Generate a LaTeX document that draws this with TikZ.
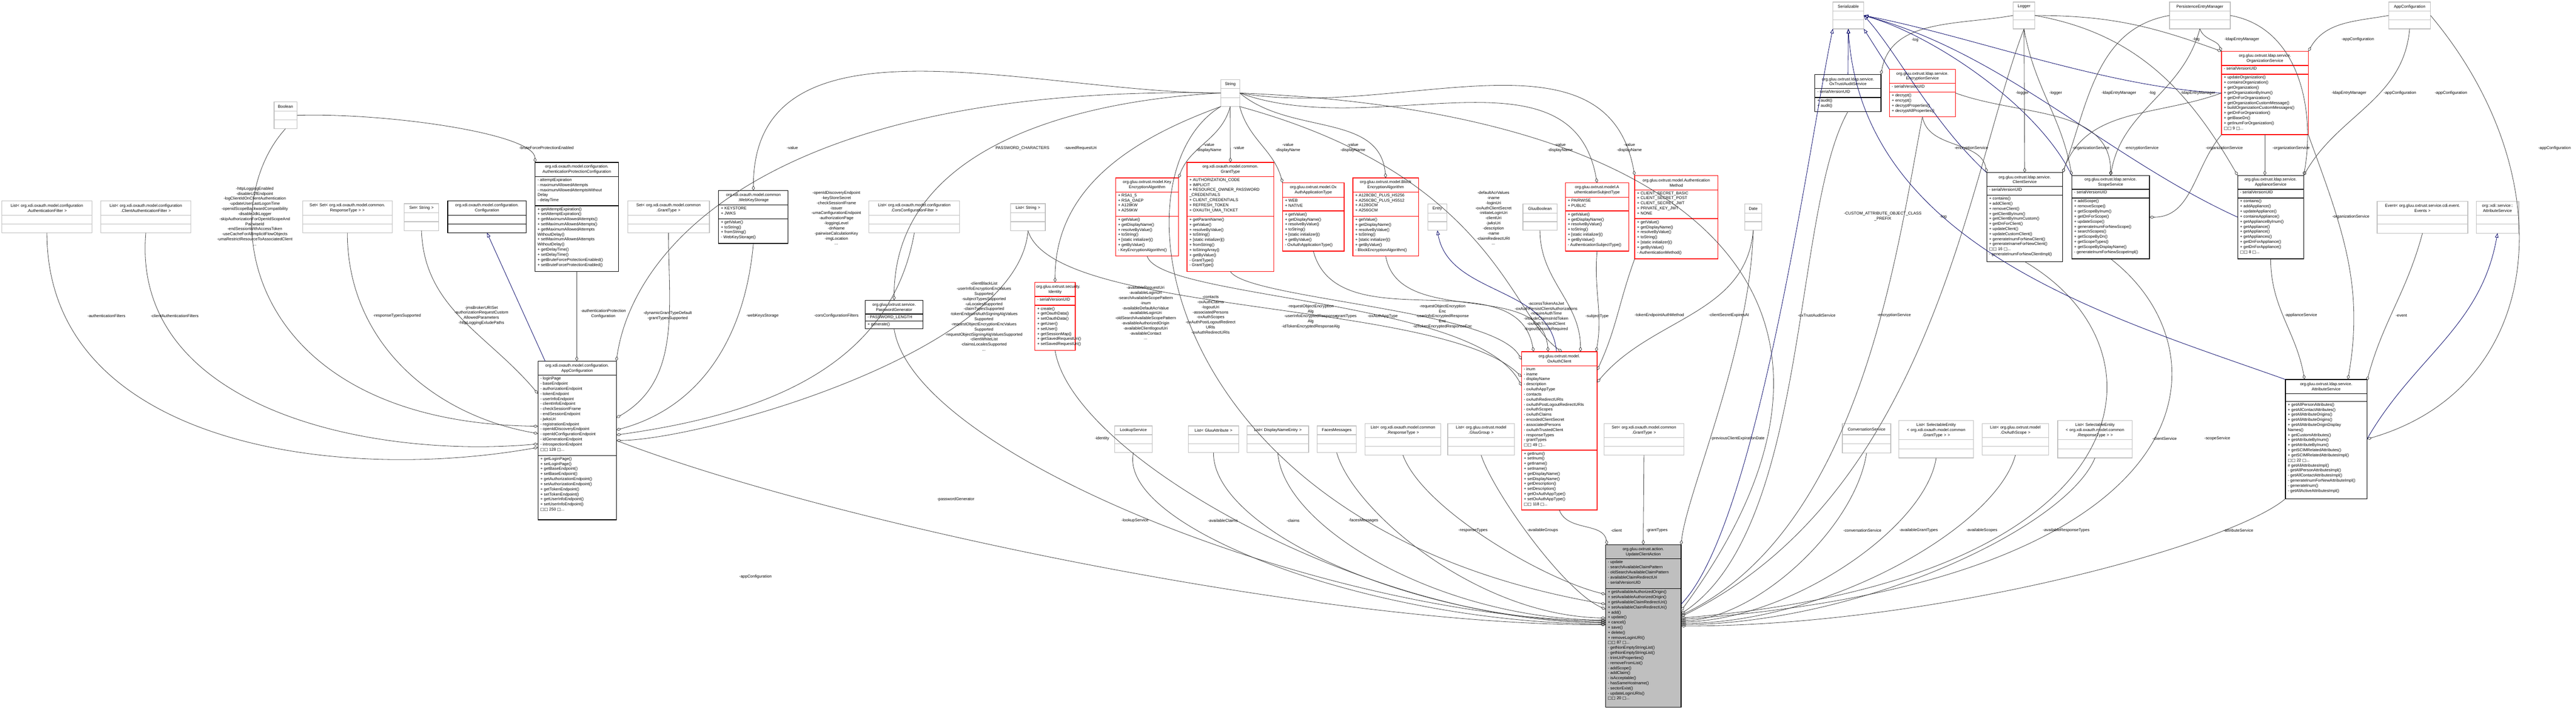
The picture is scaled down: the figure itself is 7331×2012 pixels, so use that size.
\documentclass[tikz,border=0pt]{standalone}
\usepackage{fontspec}
\setmainfont{Liberation Sans}
\newfontfamily\djf{DejaVu Sans}
\usetikzlibrary{arrows.meta}
\newcommand\sqb{{\djf □}}
\newcommand\more[1]{\sqb\sqb\ #1 \sqb...}
\tikzset{
 fnt/.style={font=\fontsize{2.9}{3.6}\selectfont},
 ttl/.style={fnt,align=center,inner sep=0},
 mem/.style={fnt,align=left,inner sep=0,anchor=north west},
 lbl/.style={fnt,align=center,inner sep=0},
 redb/.style={draw=red,line width=0.55pt},
 blackb/.style={draw=black,line width=0.45pt},
 grayb/.style={draw=black!25,line width=0.45pt},
 mainb/.style={draw=black,line width=0.45pt,fill=black!25},
 conn/.style={draw=black!75,line width=0.3pt,-{Diamond[open,length=3.6pt,width=2.1pt]}},
 inh/.style={draw=blue!40!black,line width=0.3pt,-{Triangle[open,length=3.2pt,width=2.4pt]}}
}
% name x1 y1 x2 y2 s1 s2 style title
\newcommand\cbox[9]{%
 \node[#8,inner sep=0,outer sep=0,minimum width={(#4-#2)*0.25pt},minimum height={(#5-#3)*0.25pt},anchor=north west] (#1) at (#2,-#3) {};
 \draw[#8,fill=none] (#2,-#6) -- (#4,-#6) (#2,-#7) -- (#4,-#7);
 \node[ttl,text width={(#4-#2)*0.25pt-2pt}] (#1-t) at ({(#2+#4)/2},{-(#3+#6)/2}) {#9};
 \coordinate (#1-a) at ({#2+6},{-#6-4});
 \coordinate (#1-m) at ({#2+6},{-#7-4});
}
% name x1 y1 x2 y2 s1 title
\newcommand\ebox[7]{%
 \node[grayb,inner sep=0,outer sep=0,minimum width={(#4-#2)*0.25pt},minimum height={(#5-#3)*0.25pt},anchor=north west] (#1) at (#2,-#3) {};
 \draw[grayb] (#2,-#6) -- (#4,-#6) (#2,{-(#6+#5)/2}) -- (#4,{-(#6+#5)/2});
 \node[ttl,text width={(#4-#2)*0.25pt-2pt}] (#1-t) at ({(#2+#4)/2},{-(#3+#6)/2}) {#7};
}
\newcommand\lb[4]{\node[lbl] (#1) at (#2,-#3) {#4};}
\begin{document}
\begin{tikzpicture}[x=0.25pt,y=0.25pt]
\useasboundingbox[fill=white] (0,0) rectangle (7331,-2012);
% ---------- plain boxes
\ebox{ser}{5216}{6}{5304}{82}{32}{Serializable}
\ebox{logger}{5729}{6}{5791}{82}{32}{Logger}
\ebox{pem}{6174}{6}{6347}{82}{32}{PersistenceEntryManager}
\ebox{appc}{6798}{6}{6917}{82}{32}{AppConfiguration}
\ebox{str}{3474}{226}{3528}{303}{252}{String}
\ebox{bool}{780}{290}{845}{366}{316}{Boolean}
\ebox{laf}{5}{571}{262}{662}{612}{List< org.xdi.oxauth.model.configuration\\.AuthenticationFilter >}
\ebox{lcaf}{287}{571}{543}{662}{612}{List< org.xdi.oxauth.model.configuration\\.ClientAuthenticationFilter >}
\ebox{ssr}{861}{571}{1116}{662}{612}{Set< Set< org.xdi.oxauth.model.common.\\ResponseType > >}
\ebox{sstr}{1150}{579}{1249}{656}{605}{Set< String >}
\ebox{sgl}{1786}{571}{2019}{662}{612}{Set< org.xdi.oxauth.model.common\\.GrantType >}
\ebox{lcors}{2473}{571}{2731}{662}{612}{List< org.xdi.oxauth.model.configuration\\.CorsConfigurationFilter >}
\ebox{lstr}{2876}{579}{2975}{656}{605}{List< String >}
\ebox{entry}{4063}{580}{4118}{655}{606}{Entry}
\ebox{gb}{4334}{580}{4431}{655}{606}{GluuBoolean}
\ebox{date}{4965}{580}{5014}{655}{606}{Date}
\ebox{event}{6765}{572}{7023}{663}{612}{Event< org.gluu.oxtrust.service.cdi.event.\\Events >}
\ebox{xas}{7047}{572}{7168}{663}{612}{org::xdi::service::\\AttributeService}
\ebox{lookup}{3172}{1211}{3279}{1287}{1236}{LookupService}
\ebox{lga}{3382}{1211}{3525}{1287}{1236}{List< GluuAttribute >}
\ebox{ldn}{3549}{1211}{3724}{1287}{1236}{List< DisplayNameEntry >}
\ebox{fm}{3748}{1211}{3860}{1287}{1236}{FacesMessages}
\ebox{lrt}{3885}{1204}{4100}{1294}{1244}{List< org.xdi.oxauth.model.common\\.ResponseType >}
\ebox{lgg}{4120}{1204}{4310}{1294}{1244}{List< org.gluu.oxtrust.model\\.GluuGroup >}
\ebox{sgb}{4565}{1204}{4792}{1294}{1244}{Set< org.xdi.oxauth.model.common\\.GrantType >}
\ebox{conv}{5243}{1205}{5381}{1288}{1236}{ConversationService}
\ebox{lsg}{5404}{1196}{5616}{1302}{1250}{List< SelectableEntity\\< org.xdi.oxauth.model.common\\.GrantType > >}
\ebox{los}{5641}{1204}{5830}{1294}{1244}{List< org.gluu.oxtrust.model\\.OxAuthScope >}
\ebox{lsr}{5856}{1196}{6068}{1302}{1250}{List< SelectableEntity\\< org.xdi.oxauth.model.common\\.ResponseType > >}
% ---------- class boxes
\cbox{conf}{1274}{571}{1498}{662}{612}{637}{blackb}{org.xdi.oxauth.model.configuration.\\Configuration}
\cbox{apc}{1523}{462}{1760}{772}{502}{585}{blackb}{org.xdi.oxauth.model.configuration.\\AuthenticationProtectionConfiguration}
\node[mem] (apc-am) at (apc-a) {- attemptExpiration\\- maximumAllowedAttempts\\- maximumAllowedAttemptsWithout\\Delay\\- delayTime};
\node[mem] (apc-mm) at (apc-m) {+ getAttemptExpiration()\\+ setAttemptExpiration()\\+ getMaximumAllowedAttempts()\\+ setMaximumAllowedAttempts()\\+ getMaximumAllowedAttempts\\WithoutDelay()\\+ setMaximumAllowedAttempts\\WithoutDelay()\\+ getDelayTime()\\+ setDelayTime()\\+ getBruteForceProtectionEnabled()\\+ setBruteForceProtectionEnabled()};
\cbox{wks}{2045}{542}{2243}{692}{583}{622}{blackb}{org.xdi.oxauth.model.common\\.WebKeyStorage}
\node[mem] (wks-am) at (wks-a) {+ KEYSTORE\\+ JWKS};
\node[mem] (wks-mm) at (wks-m) {+ getValue()\\+ toString()\\+ fromString()\\- WebKeyStorage()};
\cbox{kea}{3175}{506}{3354}{728}{546}{615}{redb}{org.gluu.oxtrust.model.Key\\EncryptionAlgorithm}
\node[mem] (kea-am) at (kea-a) {+ RSA1\_5\\+ RSA\_OAEP\\+ A128KW\\+ A256KW};
\node[mem] (kea-mm) at (kea-m) {+ getValue()\\+ getDisplayName()\\+ resolveByValue()\\+ toString()\\+ [static initializer]()\\+ getByValue()\\- KeyEncryptionAlgorithm()};
\cbox{gt}{3378}{462}{3625}{772}{502}{615}{redb}{org.xdi.oxauth.model.common.\\GrantType}
\node[mem] (gt-am) at (gt-a) {+ AUTHORIZATION\_CODE\\+ IMPLICIT\\+ RESOURCE\_OWNER\_PASSWORD\\\_CREDENTIALS\\+ CLIENT\_CREDENTIALS\\+ REFRESH\_TOKEN\\+ OXAUTH\_UMA\_TICKET};
\node[mem] (gt-mm) at (gt-m) {+ getParamName()\\+ getValue()\\+ resolveByValue()\\+ toString()\\+ [static initializer]()\\+ fromString()\\+ toStringArray()\\+ getByValue()\\- GrantType()\\- GrantType()};
\cbox{oat}{3650}{520}{3825}{714}{561}{600}{redb}{org.gluu.oxtrust.model.Ox\\AuthApplicationType}
\node[mem] (oat-am) at (oat-a) {+ WEB\\+ NATIVE};
\node[mem] (oat-mm) at (oat-m) {+ getValue()\\+ getDisplayName()\\+ resolveByValue()\\+ toString()\\+ [static initializer]()\\+ getByValue()\\- OxAuthApplicationType()};
\cbox{bea}{3850}{506}{4037}{728}{546}{615}{redb}{org.gluu.oxtrust.model.Block\\EncryptionAlgorithm}
\node[mem] (bea-am) at (bea-a) {+ A128CBC\_PLUS\_HS256\\+ A256CBC\_PLUS\_HS512\\+ A128GCM\\+ A256GCM};
\node[mem] (bea-mm) at (bea-m) {+ getValue()\\+ getDisplayName()\\+ resolveByValue()\\+ toString()\\+ [static initializer]()\\+ getByValue()\\- BlockEncryptionAlgorithm()};
\cbox{ast}{4455}{520}{4635}{714}{561}{600}{redb}{org.gluu.oxtrust.model.A\\uthenticationSubjectType}
\node[mem] (ast-am) at (ast-a) {+ PAIRWISE\\+ PUBLIC};
\node[mem] (ast-mm) at (ast-m) {+ getValue()\\+ getDisplayName()\\+ resolveByValue()\\+ toString()\\+ [static initializer]()\\+ getByValue()\\- AuthenticationSubjectType()};
\cbox{am}{4652}{499}{4889}{736}{540}{622}{redb}{org.gluu.oxtrust.model.Authentication\\Method}
\node[mem] (am-am) at (am-a) {+ CLIENT\_SECRET\_BASIC\\+ CLIENT\_SECRET\_POST\\+ CLIENT\_SECRET\_JWT\\+ PRIVATE\_KEY\_JWT\\+ NONE};
\node[mem] (am-mm) at (am-m) {+ getValue()\\+ getDisplayName()\\+ resolveByValue()\\+ toString()\\+ [static initializer]()\\+ getByValue()\\- AuthenticationMethod()};
\cbox{ota}{5165}{212}{5353}{317}{252}{277}{blackb}{org.gluu.oxtrust.ldap.service.\\OxTrustAuditService}
\node[mem] (ota-am) at (ota-a) {- serialVersionUID};
\node[mem] (ota-mm) at (ota-m) {+ audit()\\+ audit()};
\cbox{enc}{5377}{197}{5565}{332}{237}{262}{redb}{org.gluu.oxtrust.ldap.service.\\EncryptionService}
\node[mem] (enc-am) at (enc-a) {- serialVersionUID};
\node[mem] (enc-mm) at (enc-m) {+ decrypt()\\+ encrypt()\\+ decryptProperties()\\+ decryptAllProperties()};
\cbox{cs}{5654}{491}{5870}{744}{530}{555}{blackb}{org.gluu.oxtrust.ldap.service.\\ClientService}
\node[mem] (cs-am) at (cs-a) {- serialVersionUID};
\node[mem] (cs-mm) at (cs-m) {+ contains()\\+ addClient()\\+ removeClient()\\+ getClientByInum()\\+ getClientByInumCustom()\\+ getDnForClient()\\+ updateClient()\\+ updateCustomClient()\\+ generateInumForNewClient()\\+ generateInameForNewClient()\\\more{16}\\- generateInumForNewClientImpl()};
\cbox{ss}{5896}{499}{6117}{736}{538}{563}{blackb}{org.gluu.oxtrust.ldap.service.\\ScopeService}
\node[mem] (ss-am) at (ss-a) {- serialVersionUID};
\node[mem] (ss-mm) at (ss-m) {+ addScope()\\+ removeScope()\\+ getScopeByInum()\\+ getDnForScope()\\+ updateScope()\\+ generateInumForNewScope()\\+ searchScopes()\\+ getScopeByDn()\\+ getScopeTypes()\\+ getScopeByDisplayName()\\- generateInumForNewScopeImpl()};
\cbox{org}{6322}{146}{6569}{383}{186}{211}{redb}{org.gluu.oxtrust.ldap.service.\\OrganizationService}
\node[mem] (org-am) at (org-a) {- serialVersionUID};
\node[mem] (org-mm) at (org-m) {+ updateOrganization()\\+ containsOrganization()\\+ getOrganization()\\+ getOrganizationByInum()\\+ getDnForOrganization()\\+ getOrganizationCustomMessage()\\+ buildOrganizationCustomMessages()\\+ getDnForOrganization()\\+ getBaseDn()\\+ getInumForOrganization()\\\more{9}};
\cbox{app}{6368}{499}{6556}{736}{538}{563}{blackb}{org.gluu.oxtrust.ldap.service.\\ApplianceService}
\node[mem] (app-am) at (app-a) {- serialVersionUID};
\node[mem] (app-mm) at (app-m) {+ contains()\\+ addAppliance()\\+ updateAppliance()\\+ containsAppliance()\\+ getApplianceByInum()\\+ getAppliance()\\+ getAppliance()\\+ getAppliances()\\+ getDnForAppliance()\\+ getDnForAppliance()\\\more{8}};
\cbox{atts}{6504}{1079}{6736}{1418}{1119}{1141}{blackb}{org.gluu.oxtrust.ldap.service.\\AttributeService}
\node[mem] (atts-mm) at (atts-m) {+ getAllPersonAttributes()\\+ getAllContactAttributes()\\+ getAllAttributeOrigins()\\+ getAllAttributeOrigins()\\+ getAllAttributeOriginDisplay\\Names()\\+ getCustomAttributes()\\+ getAttributeByInum()\\+ getAttributeByInum()\\+ getSCIMRelatedAttributes()\\+ getSCIMRelatedAttributesImpl()\\\more{22}\\\# getAllAttributesImpl()\\- getAllPersonAttributesImpl()\\- getAllContactAttributesImpl()\\- generateInumForNewAttributeImpl()\\- generateInum()\\- getAllActiveAttributesImpl()};
\cbox{ident}{2945}{803}{3060}{996}{843}{868}{redb}{org.gluu.oxtrust.security.\\Identity}
\node[mem] (ident-am) at (ident-a) {- serialVersionUID};
\node[mem] (ident-mm) at (ident-m) {+ create()\\+ getOauthData()\\+ setOauthData()\\+ getUser()\\+ setUser()\\+ getSessionMap()\\+ getSavedRequestUri()\\+ setSavedRequestUri()};
\cbox{pg}{2462}{854}{2627}{935}{893}{913}{blackb}{org.gluu.oxtrust.service.\\PasswordGenerator}
\node[mem] (pg-am) at (pg-a) {- PASSWORD\_LENGTH};
\node[mem] (pg-mm) at (pg-m) {+ generate()};
\cbox{oac}{1531}{1027}{1754}{1478}{1067}{1295}{blackb}{org.xdi.oxauth.model.configuration.\\AppConfiguration}
\node[mem] (oac-am) at (oac-a) {- loginPage\\- baseEndpoint\\- authorizationEndpoint\\- tokenEndpoint\\- userInfoEndpoint\\- clientInfoEndpoint\\- checkSessionIFrame\\- endSessionEndpoint\\- jwksUri\\- registrationEndpoint\\- openIdDiscoveryEndpoint\\- openIdConfigurationEndpoint\\- idGenerationEndpoint\\- introspectionEndpoint\\\more{128}};
\node[mem] (oac-mm) at (oac-m) {+ getLoginPage()\\+ setLoginPage()\\+ getBaseEndpoint()\\+ setBaseEndpoint()\\+ getAuthorizationEndpoint()\\+ setAuthorizationEndpoint()\\+ getTokenEndpoint()\\+ setTokenEndpoint()\\+ getUserInfoEndpoint()\\+ setUserInfoEndpoint()\\\more{250}};
\cbox{oxc}{4330}{1000}{4545}{1450}{1040}{1280}{redb}{org.gluu.oxtrust.model.\\OxAuthClient}
\node[mem] (oxc-am) at (oxc-a) {- inum\\- iname\\- displayName\\- description\\- oxAuthAppType\\- contacts\\- oxAuthRedirectURIs\\- oxAuthPostLogoutRedirectURIs\\- oxAuthScopes\\- oxAuthClaims\\- encodedClientSecret\\- associatedPersons\\- oxAuthTrustedClient\\- responseTypes\\- grantTypes\\\more{49}};
\node[mem] (oxc-mm) at (oxc-m) {+ getInum()\\+ setInum()\\+ getIname()\\+ setIname()\\+ getDisplayName()\\+ setDisplayName()\\+ getDescription()\\+ setDescription()\\+ getOxAuthAppType()\\+ setOxAuthAppType()\\\more{118}};
\cbox{main}{4569}{1549}{4784}{2011}{1589}{1674}{mainb}{org.gluu.oxtrust.action.\\UpdateClientAction}
\node[mem] (main-am) at (main-a) {- update\\- searchAvailableClaimPattern\\- oldSearchAvailableClaimPattern\\- availableClaimRedirectUri\\- serialVersionUID};
\node[mem] (main-mm) at (main-m) {+ getAvailableAuthorizedOrigin()\\+ setAvailableAuthorizedOrigin()\\+ getAvailableClaimRedirectUri()\\+ setAvailableClaimRedirectUri()\\+ add()\\+ update()\\+ cancel()\\+ save()\\+ delete()\\+ removeLoginURI()\\\more{87}\\- getNonEmptyStringList()\\- getNonEmptyStringList()\\- trimUriProperties()\\- removeFromList()\\- addScope()\\- addClaim()\\- isAcceptable()\\- hasSameHostname()\\- sectorExist()\\- updateLoginURIs()\\\more{20}};
% ---------- String edges
\draw[conn] (str.west) to[out=180,in=90] (wks.north);
\draw[conn] (str.west) to[out=183,in=90] (pg.north);
\draw[conn] (str.south west) to[out=200,in=90] (ident.north);
\draw[conn] (str.south) to[out=-105,in=70] (kea.north east);
\draw[conn] (str.south) -- (gt.north);
\draw[conn] (str.south east) to[out=-75,in=105] (oat.north west);
\draw[conn] (str.east) to[out=-40,in=95] (bea.north);
\draw[conn] (str.east) to[out=-20,in=100] (ast.north);
\draw[conn] (str.east) to[out=-10,in=100] (am.north west);
\draw[conn] (str.west) .. controls (2200,-240) and (1800,-700) .. (oac.north east);
\draw[conn] (str.south west) .. controls (3150,-500) and (3300,-1500) .. (main.150);
\draw[conn] (str.east) .. controls (4900,-320) and (5400,-900) .. (main.22);
\draw[conn] (str.south east) .. controls (4250,-500) and (4300,-900) .. (oxc.88);
\draw[conn] (lstr.south) .. controls (3000,-900) and (4100,-850) .. (oxc.125);
\draw[conn] (lstr.south) .. controls (2900,-1000) and (2000,-1250) .. (oac.east);
\lb{l1}{2255}{421}{-value}
\lb{l2}{2910}{421}{PASSWORD\_CHARACTERS}
\lb{l3}{3075}{421}{-savedRequestUri}
\lb{l4}{3440}{420}{-value\\-displayName}
\lb{l5}{3525}{421}{-value}
\lb{l6}{3665}{420}{-value\\-displayName}
\lb{l7}{3850}{420}{-value\\-displayName}
\lb{l8}{4440}{420}{-value\\-displayName}
\lb{l9}{4637}{420}{-value\\-displayName}
\lb{l10}{2380}{620}{-openIdDiscoveryEndpoint\\-keyStoreSecret\\-checkSessionIFrame\\-issuer\\-umaConfigurationEndpoint\\-authorizationPage\\-loggingLevel\\-dnName\\-pairwiseCalculationKey\\-imgLocation\\...}
\lb{l11}{2800}{900}{-clientBlackList\\-userInfoEncryptionEncValues\\Supported\\-subjectTypesSupported\\-uiLocalesSupported\\-claimTypesSupported\\-tokenEndpointAuthSigningAlgValues\\Supported\\-requestObjectEncryptionEncValues\\Supported\\-requestObjectSigningAlgValuesSupported\\-clientWhiteList\\-claimsLocalesSupported\\...}
\lb{l12}{3260}{890}{-availableRequestUri\\-availableLoginUri\\-searchAvailableScopePattern\\-inum\\-availableDefaultAcrValue\\-availableLoginUri\\-oldSearchAvailableScopePattern\\-availableAuthorizedOrigin\\-availableClientlogoutUri\\-availableContact\\...}
\lb{l13}{3445}{895}{-contacts\\-oxAuthClaims\\-logoutUri\\-associatedPersons\\-oxAuthScopes\\-oxAuthPostLogoutRedirect\\URIs\\-oxAuthRedirectURIs}
\lb{l14}{4250}{620}{-defaultAcrValues\\-iname\\-loginUri\\-oxAuthClientSecret\\-initiateLoginUri\\-clientUri\\-jwksUri\\-description\\-name\\-claimRedirectURI\\...}
\lb{l15}{5358}{615}{-CUSTOM\_ATTRIBUTE\_OBJECT\_CLASS\\\_PREFIX}
% ---------- oxauth AppConfiguration
\draw[conn] (bool.east) .. controls (1100,-320) and (1520,-380) .. (apc.north west);
\draw[conn] (bool.south) .. controls (600,-600) and (700,-1200) .. (oac.160);
\draw[conn] (laf.south) to[out=-90,in=190] (oac.190);
\draw[conn] (lcaf.south) to[out=-95,in=185] (oac.185);
\draw[conn] (ssr.south) to[out=-90,in=170] (oac.170);
\draw[conn] (sstr.south) to[out=-88,in=130] (oac.130);
\draw[inh] (oac.112) -- (conf.south);
\draw[conn] (apc.south) -- (apc.south |- oac.north);
\draw[conn] (sgl.south) to[out=-90,in=30] (oac.30);
\draw[conn] (wks.south) to[out=-95,in=15] (oac.15);
\draw[conn] (lcors.south) to[out=-100,in=8] (oac.8);
\lb{l16}{1555}{421}{-bruteForceProtectionEnabled}
\lb{l17}{725}{615}{-httpLoggingEnabled\\-disableU2fEndpoint\\-logClientIdOnClientAuthentication\\-updateUserLastLogonTime\\-openidScopeBackwardCompatibility\\-disableJdkLogger\\-skipAuthorizationForOpenIdScopeAnd\\PairwiseId\\-endSessionWithAccessToken\\-useCacheForAllImplicitFlowObjects\\-umaRestrictResourceToAssociatedClient\\...}
\lb{l18}{303}{898}{-authenticationFilters}
\lb{l19}{497}{898}{-clientAuthenticationFilters}
\lb{l20}{1130}{898}{-responseTypesSupported}
\lb{l21}{1370}{897}{-jmsBrokerURISet\\-authorizationRequestCustom\\AllowedParameters\\-httpLoggingExludePaths}
\lb{l22}{1717}{892}{-authenticationProtection\\Configuration}
\lb{l23}{1900}{898}{-dynamicGrantTypeDefault\\-grantTypesSupported}
\lb{l24}{2170}{898}{-webKeysStorage}
\lb{l25}{2380}{898}{-corsConfigurationFilters}
% ---------- edges into main, left
\draw[conn] (oac.east) .. controls (2400,-1500) and (3800,-1780) .. (main.178);
\draw[conn] (pg.south) .. controls (2600,-1300) and (3800,-1760) .. (main.172);
\draw[conn] (ident.south) .. controls (3050,-1300) and (3900,-1770) .. (main.175);
\draw[conn] (lookup.south) .. controls (3180,-1500) and (3900,-1770) .. (main.177);
\draw[conn] (lga.south) .. controls (3450,-1500) and (4000,-1760) .. (main.174);
\draw[conn] (ldn.south) .. controls (3650,-1500) and (4100,-1760) .. (main.171);
\draw[conn] (fm.south) .. controls (3850,-1450) and (4200,-1750) .. (main.168);
\draw[conn] (lrt.south) .. controls (4050,-1450) and (4400,-1650) .. (main.140);
\draw[conn] (lgg.south) .. controls (4250,-1400) and (4450,-1680) .. (main.156);
\draw[conn] (oxc.south) to[out=-70,in=100] (main.114);
\draw[conn] (sgb.south) -- (main.north);
\draw[conn] (date.south) .. controls (4980,-1000) and (4800,-1400) .. (main.65);
\lb{l26}{2150}{1640}{-appConfiguration}
\lb{l27}{2720}{1420}{-passwordGenerator}
\lb{l28}{3136}{1247}{-identity}
\lb{l29}{3230}{1480}{-lookupService}
\lb{l30}{3480}{1480}{-availableClaims}
\lb{l31}{3680}{1480}{-claims}
\lb{l32}{3880}{1480}{-facesMessages}
\lb{l33}{4192}{1508}{-responseTypes}
\lb{l34}{4390}{1508}{-availableGroups}
\lb{l35}{4600}{1508}{-client}
\lb{l36}{4715}{1508}{-grantTypes}
\lb{l37}{4945}{1247}{-previousClientExpirationDate}
% ---------- edges into main, right
\draw[conn] (conv.south) .. controls (5280,-1500) and (5000,-1760) .. (main.8);
\draw[conn] (lsg.south) .. controls (5480,-1500) and (5100,-1760) .. (main.6);
\draw[conn] (los.south) .. controls (5680,-1500) and (5200,-1770) .. (main.4);
\draw[conn] (lsr.south) .. controls (5880,-1500) and (5300,-1770) .. (main.2);
\draw[conn] (atts.south west) .. controls (6350,-1550) and (5500,-1780) .. (main.0);
\draw[conn] (cs.south) .. controls (6200,-1000) and (6100,-1650) .. (main.12);
\draw[conn] (ss.south) .. controls (6350,-1000) and (6300,-1650) .. (main.10);
\draw[conn] (ota.south) .. controls (5100,-600) and (5150,-1500) .. (main.18);
\draw[conn] (enc.south) .. controls (5400,-700) and (5300,-1500) .. (main.16);
\draw[conn] (logger.south) .. controls (5600,-500) and (5500,-1400) .. (main.14);
\draw[inh] (main.30) .. controls (5000,-1500) and (5150,-400) .. (ser.south west);
\lb{l38}{5300}{1508}{-conversationService}
\lb{l39}{5460}{1508}{-availableGrantTypes}
\lb{l40}{5640}{1508}{-availableScopes}
\lb{l41}{5880}{1508}{-availableResponseTypes}
\lb{l42}{6370}{1508}{-attributeService}
\lb{l43}{6160}{1247}{-clientService}
\lb{l44}{6310}{1247}{-scopeService}
\lb{l45}{5170}{897}{-oxTrustAuditService}
\lb{l46}{5390}{897}{-encryptionService}
\lb{l47}{5530}{616}{-log}
% ---------- OxAuthClient
\draw[conn] (kea.south) .. controls (3300,-850) and (4200,-850) .. (oxc.130);
\draw[conn] (gt.south) .. controls (3550,-850) and (4250,-880) .. (oxc.118);
\draw[conn] (oat.south) to[out=-75,in=100] (oxc.108);
\draw[conn] (bea.south) to[out=-80,in=95] (oxc.98);
\draw[conn] (gb.south) to[out=-90,in=90] (oxc.75);
\draw[conn] (ast.south) to[out=-95,in=80] (oxc.65);
\draw[conn] (am.south west) to[out=-110,in=65] (oxc.58);
\draw[conn] (date.south) to[out=-95,in=50] (oxc.52);
\draw[inh] (oxc.92) to[out=95,in=-80] (entry.south);
\lb{l48}{3730}{900}{-requestObjectEncryption\\Alg\\-userInfoEncryptedResponse\\Alg\\-idTokenEncryptedResponseAlg}
\lb{l49}{3830}{900}{-grantTypes}
\lb{l50}{3935}{900}{-oxAuthAppType}
\lb{l51}{4105}{900}{-requestObjectEncryption\\Enc\\-userInfoEncryptedResponse\\Enc\\-idTokenEncryptedResponseEnc}
\lb{l52}{4400}{900}{-accessTokenAsJwt\\-oxAuthPersistClientAuthorizations\\-requireAuthTime\\-includeClaimsInIdToken\\-oxAuthTrustedClient\\-logoutSessionRequired}
\lb{l53}{4545}{900}{-subjectType}
\lb{l54}{4722}{897}{-tokenEndpointAuthMethod}
\lb{l55}{4920}{897}{-clientSecretExpiresAt}
% ---------- services
\draw[conn] (logger.west) to[out=190,in=80] (ota.north east);
\draw[inh] (ota.north) -- (ser.south);
\draw[inh] (enc.north west) -- (ser.south east);
\draw[inh] (cs.north west) .. controls (5500,-350) and (5400,-150) .. (ser.east);
\draw[inh] (ss.north west) .. controls (5800,-300) and (5500,-100) .. (ser.east);
\draw[inh] (app.west) .. controls (6000,-450) and (5700,-150) .. (ser.east);
\draw[inh] (org.west) .. controls (6000,-250) and (5600,-100) .. (ser.east);
\draw[inh] (atts.north west) .. controls (6000,-900) and (5300,-700) .. (ser.south);
\draw[conn] (logger.south) -- (cs.north);
\draw[conn] (logger.south) to[out=-80,in=100] (ss.north west);
\draw[conn] (pem.west) to[out=190,in=70] (cs.north east);
\draw[conn] (pem.south) to[out=-105,in=80] (ss.north);
\draw[conn] (pem.south) to[out=-70,in=110] (org.north west);
\draw[conn] (logger.east) to[out=0,in=160] (org.north west);
\draw[conn] (appc.west) to[out=190,in=60] (org.north east);
\draw[conn] (pem.east) to[out=-10,in=80] (app.north east);
\draw[conn] (appc.south) to[out=-95,in=60] (app.north east);
\draw[conn] (logger.east) to[out=-10,in=120] (app.north west);
\draw[conn] (appc.east) .. controls (7300,-500) and (7250,-1100) .. (atts.east);
\draw[conn] (enc.south) to[out=-80,in=100] (cs.north west);
\draw[conn] (org.west) to[out=200,in=70] (cs.north east);
\draw[conn] (enc.east) to[out=-20,in=90] (ss.north);
\draw[conn] (org.south west) to[out=-130,in=0] (ss.east);
\draw[conn] (org.south) -- (org.south |- app.north);
\draw[conn] (org.south east) to[out=-70,in=80] (atts.70);
\draw[conn] (app.south) to[out=-90,in=100] (atts.110);
\draw[conn] (event.south) to[out=-105,in=75] (atts.55);
\draw[inh] (atts.east) to[out=60,in=-100] (xas.south);
\lb{l56}{5450}{113}{-log}
\lb{l57}{5755}{264}{-logger}
\lb{l58}{5850}{264}{-logger}
\lb{l59}{6030}{264}{-ldapEntryManager}
\lb{l60}{6125}{264}{-log}
\lb{l61}{6255}{264}{-ldapEntryManager}
\lb{l62}{6250}{112}{-log}
\lb{l63}{6380}{112}{-ldapEntryManager}
\lb{l64}{6710}{112}{-appConfiguration}
\lb{l65}{6685}{264}{-ldapEntryManager}
\lb{l66}{6830}{264}{-appConfiguration}
\lb{l67}{6975}{264}{-appConfiguration}
\lb{l68}{7270}{422}{-appConfiguration}
\lb{l69}{5610}{422}{-encryptionService}
\lb{l70}{5950}{422}{-organizationService}
\lb{l71}{6095}{422}{-encryptionService}
\lb{l72}{6330}{422}{-organizationService}
\lb{l73}{6520}{422}{-organizationService}
\lb{l74}{6690}{616}{-organizationService}
\lb{l75}{6548}{897}{-applianceService}
\lb{l76}{6834}{897}{-event}
\end{tikzpicture}
\end{document}
